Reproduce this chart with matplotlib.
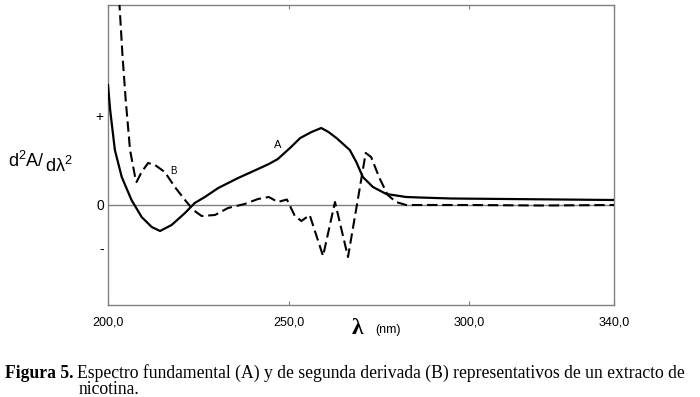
import matplotlib
matplotlib.use("Agg")
import matplotlib.pyplot as plt

# curve A: fundamental spectrum (solid)
wl_a = [200.0, 200.6, 201.9, 203.8, 206.5, 209.3, 212.1, 214.4, 217.6, 221.3,
        224.0, 226.8, 230.5, 236.0, 241.5, 244.5, 247.0, 250.5, 253.2, 256.3,
        259.0, 261.0, 263.2, 266.9, 268.7, 270.5, 273.3, 277.0, 282.5, 286.2,
        295.0, 310.0, 325.0, 340.0]
val_a = [1.20, 0.95, 0.55, 0.28, 0.05, -0.12, -0.22, -0.26, -0.20, -0.08,
         0.02, 0.08, 0.17, 0.27, 0.36, 0.41, 0.46, 0.575, 0.67, 0.73,
         0.77, 0.73, 0.67, 0.55, 0.43, 0.28, 0.18, 0.11, 0.08, 0.075,
         0.065, 0.06, 0.055, 0.05]

# curve B: second derivative (dashed)
wl_b = [203.1, 204.0, 204.9, 206.1, 207.5, 207.9, 209.3, 211.1, 213.0, 215.7,
        218.5, 221.3, 223.6, 225.9, 229.6, 233.2, 237.8, 241.5, 244.5, 247.0,
        249.5, 251.7, 253.5, 255.8, 259.5, 262.8, 266.4, 269.1, 271.3, 272.8,
        275.1, 277.4, 279.7, 282.5, 300.0, 320.0, 340.0]
val_b = [2.05, 1.50, 1.05, 0.55, 0.28, 0.23, 0.33, 0.42, 0.40, 0.33,
         0.18, 0.05, -0.05, -0.11, -0.10, -0.03, 0.01, 0.06, 0.08, 0.03,
         0.055, -0.11, -0.16, -0.10, -0.51, 0.03, -0.52, 0.05, 0.52, 0.48,
         0.27, 0.10, 0.03, 0.0, 0.0, -0.005, 0.0]

x_ticks = [200, 250, 300, 340]
x_tick_labels = ["200,0", "250,0", "300,0", "340,0"]
y_ticks = [0.89, 0.0, -0.43]
y_tick_labels = ["+", "0", "-"]

W, H = 700, 397

plt.rcParams["font.family"] = ["Liberation Sans", "DejaVu Sans"]

fig = plt.figure(figsize=(W / 100, H / 100), dpi=100)
ax = fig.add_axes([108 / W, 92 / H, 506 / W, 300 / H])

ax.axhline(0, color="#808080", linewidth=1.0, zorder=1)
ax.plot(wl_a, val_a, color="black", linewidth=1.6, zorder=3)
ax.plot(wl_b, val_b, color="black", linewidth=1.5,
        linestyle=(0, (5.0, 2.3)), zorder=3)

ax.text(247.0, 0.60, "A", fontsize=8, ha="center", va="center")
ax.text(218.0, 0.34, "B", fontsize=7, ha="center", va="center")

ax.set_xlim(200, 340)
ax.set_ylim(-1, 2)

ax.set_xticks(x_ticks)
ax.set_xticklabels(x_tick_labels, fontsize=9)
ax.set_yticks(y_ticks)
ax.set_yticklabels(y_tick_labels, fontsize=10)
ax.tick_params(axis="x", direction="in", length=3, top=True,
               color="#808080", pad=8)
ax.tick_params(axis="y", length=0, pad=3)

for spine in ax.spines.values():
    spine.set_color("#808080")
    spine.set_linewidth(1.0)

# y axis label, second part sits a bit lower
fig.text(8 / W, 1 - 167 / H, r"d$^\mathregular{2}$A/", fontsize=13,
         ha="left", va="baseline")
fig.text(45 / W, 1 - 172 / H, r"dλ$^\mathregular{2}$", fontsize=13,
         ha="left", va="baseline")

# x axis label
fig.text(358 / W, 1 - 329 / H, "λ", fontsize=17, fontweight="bold",
         family="Liberation Serif", ha="center", va="center")
fig.text(375 / W, 1 - 330 / H, "(nm)", fontsize=9, ha="left", va="center")

# caption
fig.text(5 / W, 1 - 377.5 / H, "Figura 5.", fontsize=12.7, fontweight="bold",
         family="Liberation Serif", ha="left", va="baseline")
fig.text(77 / W, 1 - 377.5 / H,
         "Espectro fundamental (A) y de segunda derivada (B) representativos de un extracto de",
         fontsize=12.7, family="Liberation Serif", ha="left", va="baseline")
fig.text(79 / W, 1 - 394 / H, "nicotina.", fontsize=12.7,
         family="Liberation Serif", ha="left", va="baseline")

fig.savefig("out.png", dpi=100)
